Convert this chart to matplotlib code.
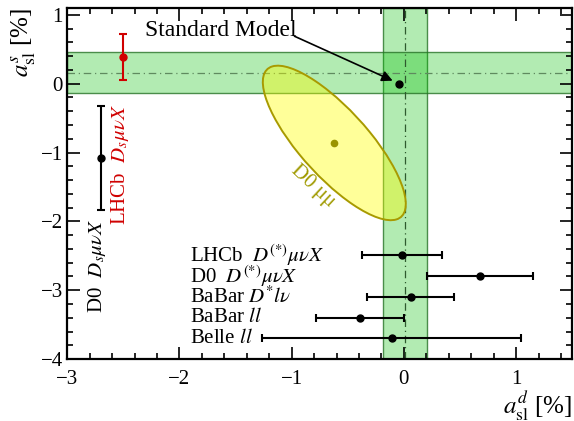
import numpy as np
import matplotlib
matplotlib.use("Agg")
import matplotlib.pyplot as plt
from matplotlib.patches import Ellipse
from matplotlib.ticker import MultipleLocator

plt.rcParams["font.family"] = "serif"
plt.rcParams["font.serif"] = ["Liberation Serif", "DejaVu Serif"]
plt.rcParams["mathtext.fontset"] = "stix"

# world averages (bands), central value and half width, in %
avg_d = (0.01, 0.20)
avg_s = (0.16, 0.30)

# Standard Model prediction
sm_d, sm_s = -0.047, 0.002

# D0 dimuon: central values, 1 sigma errors, correlation
d0mm_d, d0mm_s = -0.62, -0.86
d0mm_err_d, d0mm_err_s = 0.42, 0.74
d0mm_rho = -0.79

# a_sl^s measurements (vertical error bars)
s_labels = ["D0  $D_s\\mu\\nu X$", "LHCb  $D_s\\mu\\nu X$"]
s_xpos = [-2.70, -2.50]
s_vals = [-1.08, 0.39]
s_errs = [0.75, 0.33]
s_colors = ["black", "#d00000"]

# a_sl^d measurements (horizontal error bars)
d_labels = ["LHCb  $D^{(*)}\\mu\\nu X$", "D0  $D^{(*)}\\mu\\nu X$",
            "BaBar $D^{*}l\\nu$", "BaBar $ll$", "Belle $ll$"]
d_ypos = [-2.49, -2.80, -3.10, -3.40, -3.70]
d_vals = [-0.02, 0.68, 0.06, -0.39, -0.11]
d_errs = [0.355, 0.47, 0.39, 0.39, 1.15]

fig = plt.figure(figsize=(5.74, 4.21), dpi=100)
ax = fig.add_axes([0.117, 0.147, 0.88, 0.834])
ax.set_xlim(-3, 1.5)
ax.set_ylim(-4, 1.1)

band_face = (0.0, 0.75, 0.0, 0.30)
band_edge = (0.15, 0.45, 0.15, 0.8)
ax.axvspan(avg_d[0] - avg_d[1], avg_d[0] + avg_d[1], facecolor=band_face,
           edgecolor=band_edge, lw=1.0, zorder=1)
ax.axhspan(avg_s[0] - avg_s[1], avg_s[0] + avg_s[1], facecolor=band_face,
           edgecolor=band_edge, lw=1.0, zorder=1)
ax.axvline(avg_d[0], color="#2e5a2e", lw=0.9, ls=(0, (6, 3, 1, 3)), zorder=2)
ax.axhline(avg_s[0], color="#5f8a5f", lw=0.9, ls=(0, (6, 3, 1, 3)), zorder=2)

# D0 dimuon 68% CL ellipse (delta chi2 = 2.3)
cov = np.array([[d0mm_err_d**2, d0mm_rho * d0mm_err_d * d0mm_err_s],
                [d0mm_rho * d0mm_err_d * d0mm_err_s, d0mm_err_s**2]])
vals, vecs = np.linalg.eigh(cov)
k = np.sqrt(2.3)
angle = np.degrees(np.arctan2(vecs[1, 1], vecs[0, 1]))
ell = Ellipse((d0mm_d, d0mm_s), 2 * k * np.sqrt(vals[1]), 2 * k * np.sqrt(vals[0]),
              angle=angle, facecolor=(1.0, 1.0, 0.0, 0.40), edgecolor="#a89a00",
              lw=1.4, zorder=3)
ax.add_patch(ell)
ax.plot(d0mm_d, d0mm_s, "o", color="#9a9400", ms=4.5, zorder=4)
ax.text(-0.81, -1.49, "D0 μμ", color="#a09a00", fontsize=15,
        rotation=-43, ha="center", va="center", zorder=4)

# Standard Model
ax.plot(sm_d, sm_s, "o", color="black", ms=5, zorder=5)
ax.text(-2.305, 0.69, "Standard Model", fontsize=17, ha="left", va="baseline")
ax.annotate("", xy=(-0.10, 0.044), xytext=(-0.975, 0.69),
            arrowprops=dict(arrowstyle="-|>", color="black", lw=1.2,
                            mutation_scale=16, shrinkA=0, shrinkB=0), zorder=5)

for lab, x, v, e, c in zip(s_labels, s_xpos, s_vals, s_errs, s_colors):
    ax.errorbar(x, v, yerr=e, fmt="o", color=c, ms=5, lw=1.5, capsize=3,
                capthick=1.5, zorder=6)
ax.text(-2.53, -1.18, s_labels[1], color=s_colors[1], fontsize=15,
        rotation=90, ha="center", va="center")
ax.text(-2.73, -2.65, s_labels[0], color=s_colors[0], fontsize=15,
        rotation=90, ha="center", va="center")

for lab, y, v, e in zip(d_labels, d_ypos, d_vals, d_errs):
    ax.errorbar(v, y, xerr=e, fmt="o", color="black", ms=5, lw=1.5, capsize=3,
                capthick=1.5, zorder=6)
    ax.text(-1.907, y, lab, fontsize=15, ha="left", va="center")

ax.xaxis.set_major_locator(MultipleLocator(1))
ax.xaxis.set_minor_locator(MultipleLocator(0.2))
ax.yaxis.set_major_locator(MultipleLocator(1))
ax.yaxis.set_minor_locator(MultipleLocator(0.2))
ax.tick_params(which="both", direction="in", top=True, right=True, width=1.2,
               labelsize=15)
ax.tick_params(which="major", length=9)
ax.tick_params(which="minor", length=4.5)
ax.tick_params(axis="x", pad=8)
ax.tick_params(axis="y", pad=3)
for sp in ax.spines.values():
    sp.set_linewidth(1.6)

ax.set_xlabel("$a^{d}_{\\rm sl}$ [%]", fontsize=18, loc="right", labelpad=0)
ax.set_ylabel("$a^{s}_{\\rm sl}$ [%]", fontsize=18, loc="top", labelpad=2)

fig.savefig("out.png", dpi=100)
